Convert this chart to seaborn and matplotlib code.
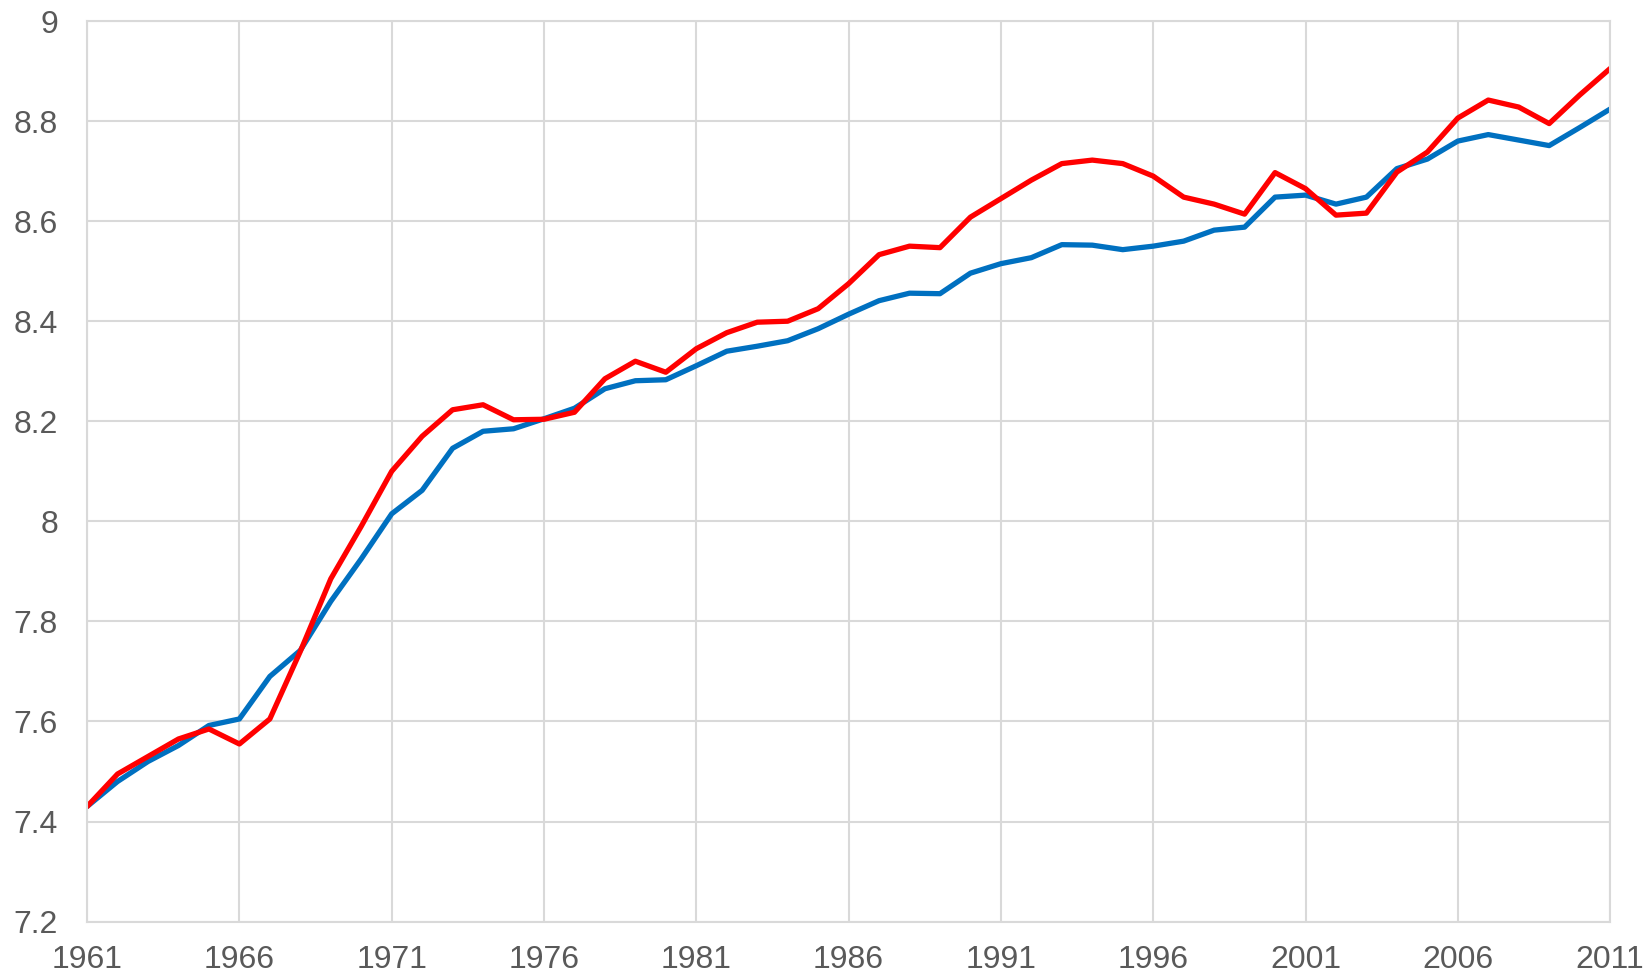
import numpy as np
import pandas as pd
import matplotlib
matplotlib.use("Agg")
import matplotlib.pyplot as plt
import seaborn as sns

# Data
years = list(range(1961, 2012))

blue_values = [
    7.430, 7.480, 7.520, 7.552, 7.592, 7.605, 7.690, 7.742, 7.840, 7.925,
    8.015, 8.062, 8.146, 8.180, 8.185, 8.205, 8.226, 8.265, 8.281, 8.283,
    8.311, 8.340, 8.350, 8.361, 8.385, 8.414, 8.441, 8.456, 8.455, 8.496,
    8.515, 8.527, 8.553, 8.552, 8.543, 8.550, 8.560, 8.582, 8.588, 8.648,
    8.652, 8.634, 8.648, 8.705, 8.724, 8.760, 8.773, 8.762, 8.751, 8.787,
    8.824,
]

red_values = [
    7.430, 7.495, 7.530, 7.565, 7.585, 7.555, 7.605, 7.740, 7.885, 7.990,
    8.100, 8.170, 8.223, 8.233, 8.203, 8.204, 8.218, 8.285, 8.320, 8.298,
    8.345, 8.377, 8.398, 8.400, 8.425, 8.475, 8.533, 8.550, 8.547, 8.608,
    8.645, 8.682, 8.715, 8.722, 8.715, 8.690, 8.648, 8.634, 8.614, 8.697,
    8.665, 8.612, 8.616, 8.698, 8.738, 8.806, 8.842, 8.828, 8.795, 8.852,
    8.905,
]

series_names = ["blue", "red"]
series_colors = {"blue": "#0070C0", "red": "#FF0000"}

x_ticks = list(range(1961, 2012, 5))
y_ticks = [7.2, 7.4, 7.6, 7.8, 8.0, 8.2, 8.4, 8.6, 8.8, 9.0]
y_tick_labels = ["7.2", "7.4", "7.6", "7.8", "8", "8.2", "8.4", "8.6", "8.8", "9"]

# Long-form table for seaborn
df = pd.concat([
    pd.DataFrame({"year": years, "value": blue_values, "series": "blue"}),
    pd.DataFrame({"year": years, "value": red_values, "series": "red"}),
], ignore_index=True)

sns.set_style("white")
plt.rcParams["font.family"] = ["Liberation Sans", "DejaVu Sans"]

fig = plt.figure(figsize=(16.46, 9.77), dpi=100)
ax = fig.add_axes([0.0529, 0.0567, 0.9253, 0.9218])

sns.lineplot(data=df, x="year", y="value", hue="series", hue_order=series_names,
             palette=series_colors, linewidth=3.8, legend=False, ax=ax)

ax.set_xlim(1961, 2011)
ax.set_ylim(7.2, 9.0)
ax.set_xticks(x_ticks)
ax.set_xticklabels([str(y) for y in x_ticks])
ax.set_yticks(y_ticks)
ax.set_yticklabels(y_tick_labels)
ax.set_xlabel("")
ax.set_ylabel("")

grid_col = "#D9D9D9"
ax.grid(True, color=grid_col, linewidth=1.5)
ax.set_axisbelow(True)
for side in ["left", "right", "top", "bottom"]:
    ax.spines[side].set_visible(True)
    ax.spines[side].set_color(grid_col)
    ax.spines[side].set_linewidth(1.5)

ax.tick_params(axis="both", length=0, labelsize=23, labelcolor="#595959")
ax.tick_params(axis="x", pad=17)
ax.tick_params(axis="y", pad=21)

plt.savefig("out.png", dpi=100)
plt.close()
